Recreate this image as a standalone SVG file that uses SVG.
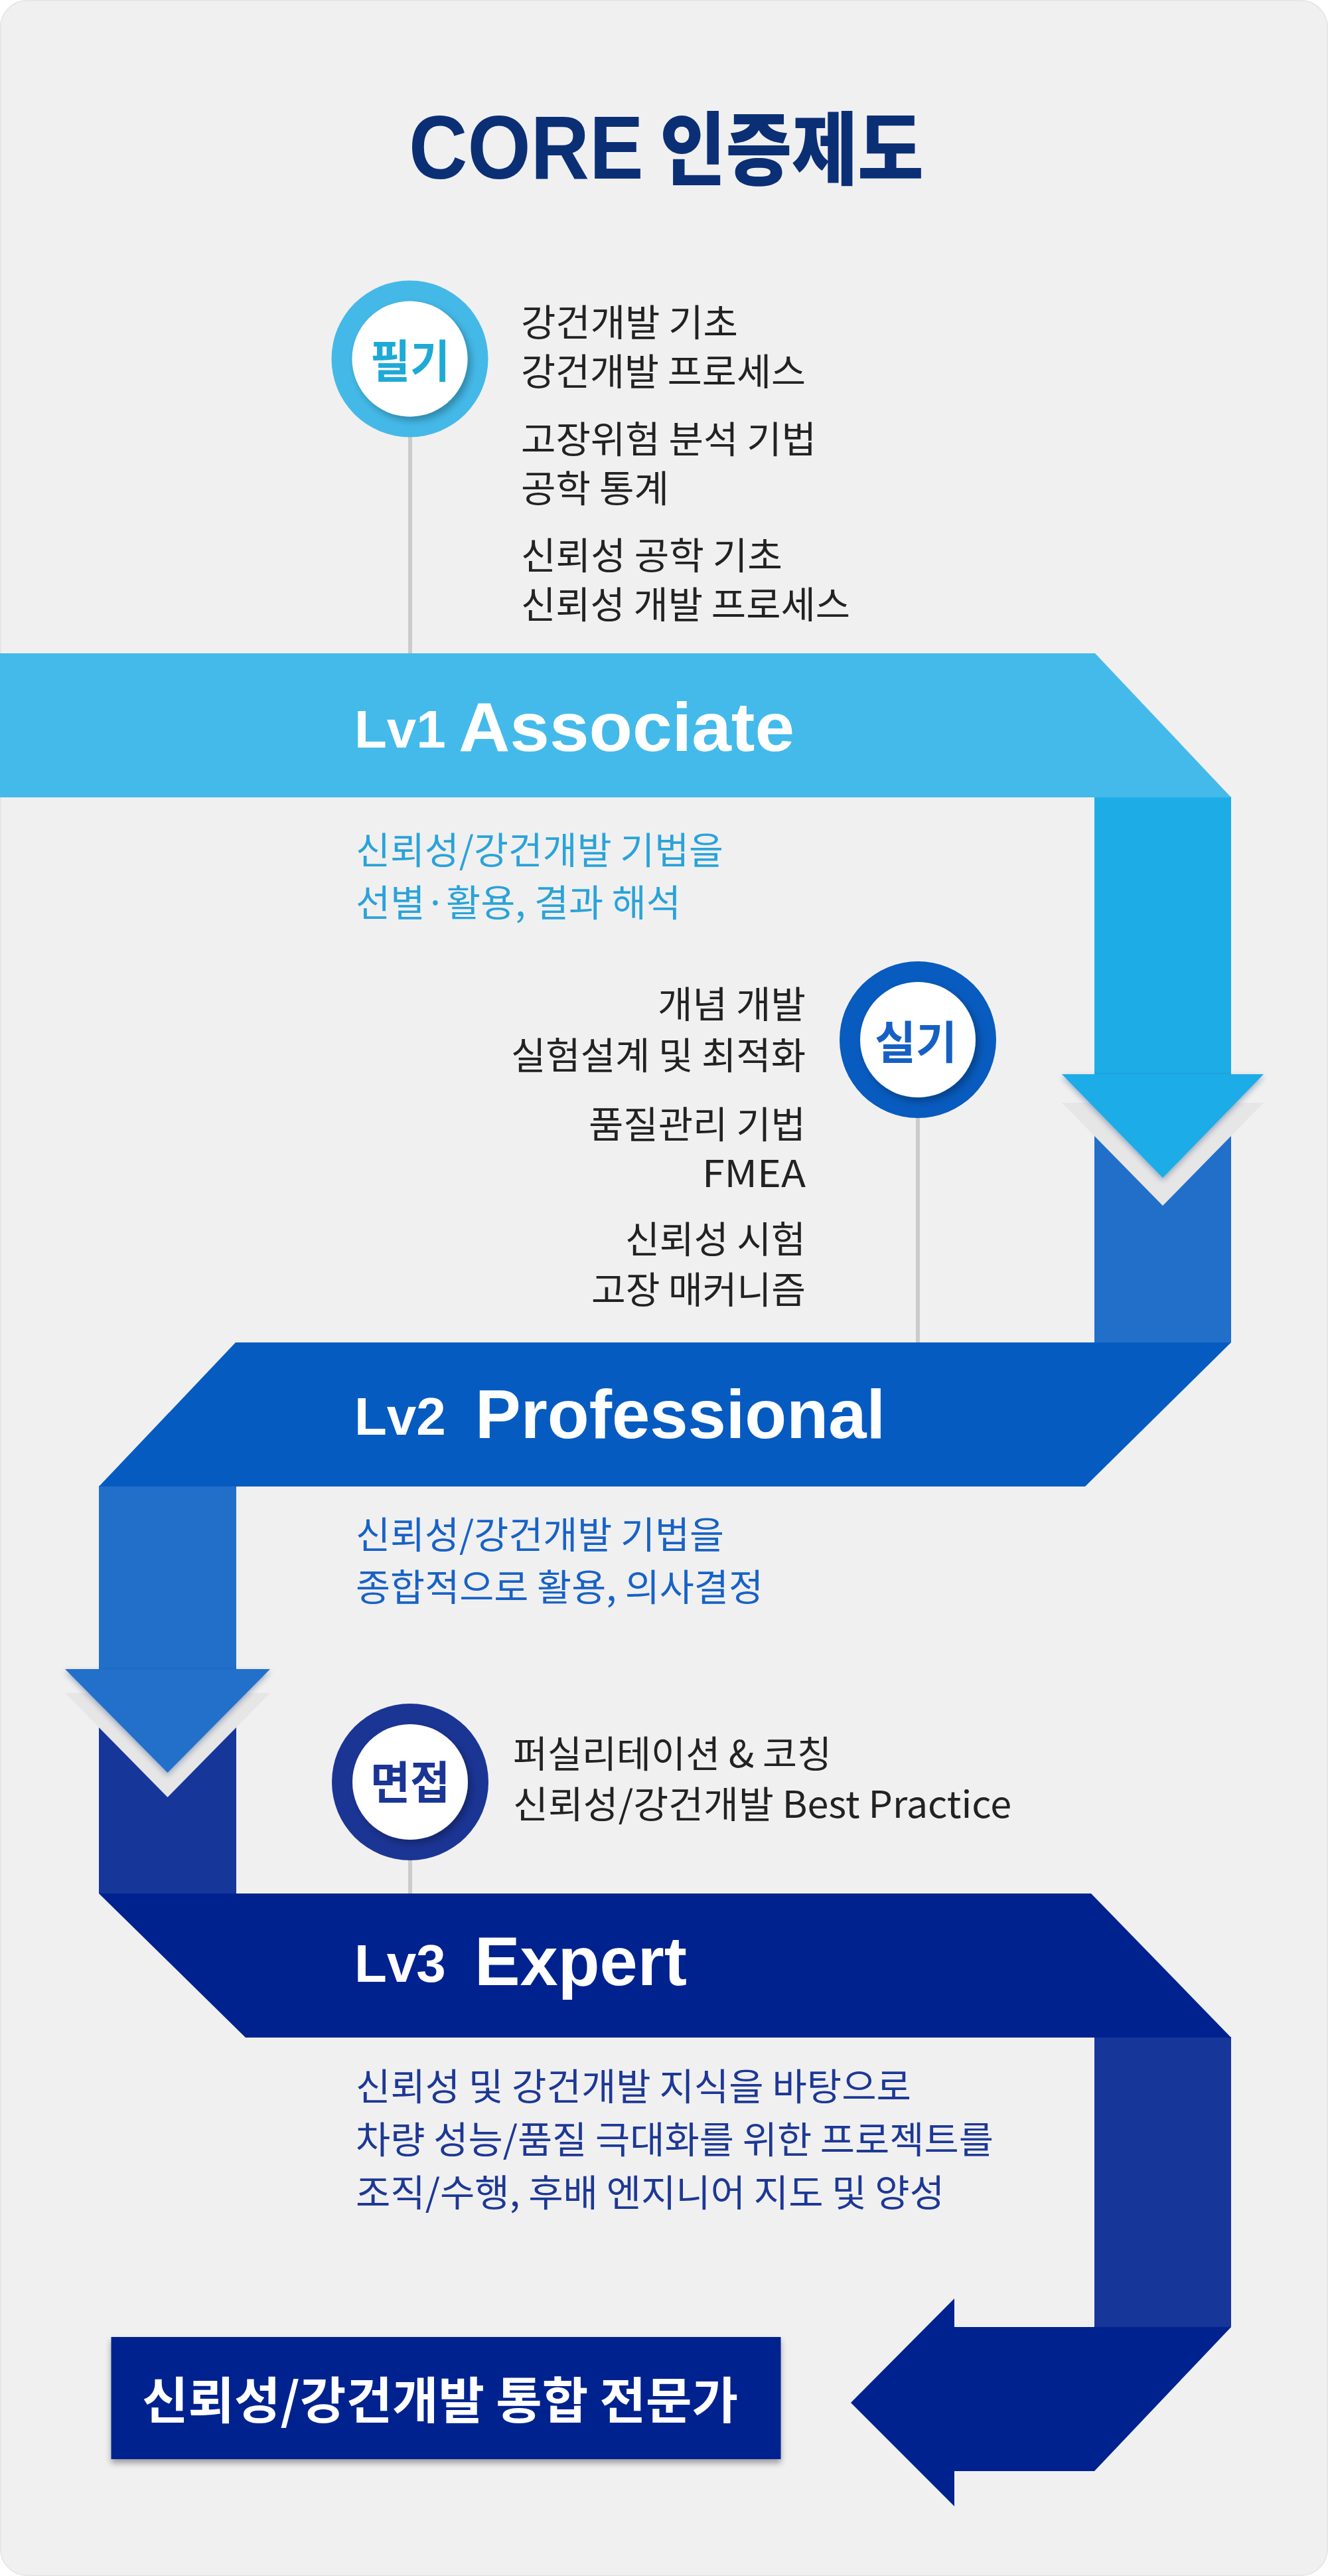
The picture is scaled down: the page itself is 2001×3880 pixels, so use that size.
<svg xmlns="http://www.w3.org/2000/svg" width="2001" height="3880" viewBox="0 0 2001 3880">
<defs>
<style>
.kr{font-family:"Noto Sans CJK KR","Noto Sans",sans-serif;}
.item{font-family:"Noto Sans CJK KR","Noto Sans",sans-serif;font-size:56px;fill:#222222;}
.desc{font-family:"Noto Sans CJK KR","Noto Sans",sans-serif;font-size:56px;}
.lv{font-family:"Liberation Sans",Arial,sans-serif;font-weight:bold;font-size:80px;fill:#ffffff;}
.lvname{font-family:"Liberation Sans",Arial,sans-serif;font-weight:bold;font-size:103px;fill:#ffffff;}
.badge{font-family:"Noto Sans CJK KR","Noto Sans",sans-serif;font-weight:bold;font-size:68px;}
.stem{stroke:#cccccc;stroke-width:6;fill:none;}
</style>
<filter id="innerShadow" x="-30%" y="-30%" width="160%" height="160%">
<feDropShadow dx="5" dy="6" stdDeviation="6" flood-color="#000000" flood-opacity="0.28"/>
</filter>
<filter id="arrowShadow" x="-20%" y="-20%" width="140%" height="150%">
<feDropShadow dx="0" dy="4" stdDeviation="4" flood-color="#0a2a6a" flood-opacity="0.35"/>
</filter>
<filter id="boxShadow" x="-10%" y="-20%" width="120%" height="150%">
<feDropShadow dx="0" dy="6" stdDeviation="5" flood-color="#000000" flood-opacity="0.35"/>
</filter>
</defs>

<g id="background">
<rect x="0" y="0" width="2001" height="3880" fill="#ffffff"/>
<rect x="0.75" y="0.75" width="1999.5" height="3878.5" rx="40" ry="40" fill="#f0f0f0" stroke="#e3e3e3" stroke-width="1.5"/>
</g>

<g id="title">
<text transform="translate(616,269) scale(0.9,1)" x="0" y="0" fill="#0b2f75"><tspan font-family="Liberation Sans, Arial, sans-serif" font-weight="bold" font-size="136">CORE</tspan><tspan font-family="Noto Sans CJK KR, Noto Sans, sans-serif" font-weight="900" font-size="120"> 인증제도</tspan></text>
</g>

<g id="connectors">
<!-- stems from badges -->
<line class="stem" x1="618" y1="655" x2="618" y2="984"/>
<line class="stem" x1="1383" y1="1680" x2="1383" y2="2022"/>
<line class="stem" x1="618" y1="2798" x2="618" y2="2852"/>
<!-- flow 1: Lv1 -> Lv2 -->
<rect x="1649" y="1660" width="206" height="362" fill="#226fca"/>
<polygon points="1600,1661 1904,1661 1752,1816" fill="#e6e6e6"/>
<rect x="1649" y="1200" width="206" height="420" fill="#1eace7"/>
<polygon points="1600,1618 1904,1618 1752,1774" fill="#1eace7" filter="url(#arrowShadow)"/>
<!-- flow 2: Lv2 -> Lv3 -->
<rect x="149" y="2548" width="207" height="304" fill="#17369a"/>
<polygon points="98,2550 407,2550 252.5,2707" fill="#e6e6e6"/>
<rect x="149" y="2238" width="207" height="278" fill="#226fca"/>
<polygon points="98,2514 407,2514 252.5,2670" fill="#226fca" filter="url(#arrowShadow)"/>
<!-- flow 3: Lv3 -> result -->
<rect x="1649" y="3068" width="206" height="437" fill="#17369a"/>
<polygon points="1282,3619 1438,3462 1438,3505 1855,3505 1649,3722 1438,3722 1438,3775" fill="#00228f"/>
</g>

<g id="lv1">
<polygon points="0,984 1650,984 1855,1201 0,1201" fill="#44baea"/>
<text class="lv" x="534" y="1126">Lv1</text>
<text class="lvname" x="691" y="1131" textLength="506" lengthAdjust="spacingAndGlyphs">Associate</text>
<text class="desc" x="536" y="1301" fill="#2aa3d9" textLength="554" lengthAdjust="spacingAndGlyphs">신뢰성/강건개발 기법을</text>
<text class="desc" x="536" y="1380" fill="#2aa3d9" textLength="490" lengthAdjust="spacingAndGlyphs">선별·활용, 결과 해석</text>
</g>

<g id="lv2">
<polygon points="355,2022 1855,2022 1635,2239 149,2239" fill="#065bc1"/>
<text class="lv" x="534" y="2161">Lv2</text>
<text class="lvname" x="716" y="2166" textLength="618" lengthAdjust="spacingAndGlyphs">Professional</text>
<text class="desc" x="536" y="2332" fill="#1862c6" textLength="555" lengthAdjust="spacingAndGlyphs">신뢰성/강건개발 기법을</text>
<text class="desc" x="536" y="2411" fill="#1862c6" textLength="614" lengthAdjust="spacingAndGlyphs">종합적으로 활용, 의사결정</text>
</g>

<g id="lv3">
<polygon points="149,2852 1644,2852 1855,3069 370,3069" fill="#00228f"/>
<text class="lv" x="534" y="2985">Lv3</text>
<text class="lvname" x="715" y="2990" textLength="320" lengthAdjust="spacingAndGlyphs">Expert</text>
<text class="desc" x="536" y="3163" fill="#1d3895" textLength="837" lengthAdjust="spacingAndGlyphs">신뢰성 및 강건개발 지식을 바탕으로</text>
<text class="desc" x="536" y="3243" fill="#1d3895" textLength="961" lengthAdjust="spacingAndGlyphs">차량 성능/품질 극대화를 위한 프로젝트를</text>
<text class="desc" x="536" y="3323" fill="#1d3895" textLength="887" lengthAdjust="spacingAndGlyphs">조직/수행, 후배 엔지니어 지도 및 양성</text>
</g>

<g id="node-pilgi">
<circle cx="617.5" cy="540.5" r="118" fill="#44b9e8"/>
<circle cx="617.5" cy="540.5" r="87" fill="#ffffff" filter="url(#innerShadow)"/>
<text class="badge" x="558" y="569" fill="#1eaad6" textLength="120" lengthAdjust="spacingAndGlyphs">필기</text>
<text class="item" x="785" y="506" textLength="327" lengthAdjust="spacingAndGlyphs">강건개발 기초</text>
<text class="item" x="785" y="580" textLength="429" lengthAdjust="spacingAndGlyphs">강건개발 프로세스</text>
<text class="item" x="785" y="682" textLength="445" lengthAdjust="spacingAndGlyphs">고장위험 분석 기법</text>
<text class="item" x="785" y="756" textLength="223" lengthAdjust="spacingAndGlyphs">공학 통계</text>
<text class="item" x="785" y="857" textLength="394" lengthAdjust="spacingAndGlyphs">신뢰성 공학 기초</text>
<text class="item" x="785" y="931" textLength="496" lengthAdjust="spacingAndGlyphs">신뢰성 개발 프로세스</text>
</g>

<g id="node-silgi">
<circle cx="1383" cy="1566" r="118" fill="#085bbf"/>
<circle cx="1383" cy="1566" r="87" fill="#ffffff" filter="url(#innerShadow)"/>
<text class="badge" x="1318" y="1595" fill="#1660c5" textLength="124" lengthAdjust="spacingAndGlyphs">실기</text>
<text class="item" x="991" y="1533" textLength="223" lengthAdjust="spacingAndGlyphs">개념 개발</text>
<text class="item" x="770" y="1610" textLength="444" lengthAdjust="spacingAndGlyphs">실험설계 및 최적화</text>
<text class="item" x="887" y="1714" textLength="327" lengthAdjust="spacingAndGlyphs">품질관리 기법</text>
<text class="item" x="1058" y="1788" textLength="156" lengthAdjust="spacingAndGlyphs">FMEA</text>
<text class="item" x="942" y="1887" textLength="272" lengthAdjust="spacingAndGlyphs">신뢰성 시험</text>
<text class="item" x="891" y="1963" textLength="323" lengthAdjust="spacingAndGlyphs">고장 매커니즘</text>
</g>

<g id="node-myeonjeop">
<circle cx="618" cy="2684" r="118" fill="#1b3595"/>
<circle cx="618" cy="2684" r="87" fill="#ffffff" filter="url(#innerShadow)"/>
<text class="badge" x="558" y="2710" fill="#1b3595" textLength="120" lengthAdjust="spacingAndGlyphs">면접</text>
<text class="item" x="773" y="2662" textLength="480" lengthAdjust="spacingAndGlyphs">퍼실리테이션 &amp; 코칭</text>
<text class="item" x="773" y="2738" textLength="751" lengthAdjust="spacingAndGlyphs">신뢰성/강건개발 Best Practice</text>
</g>

<g id="result">
<rect x="167.5" y="3520" width="1009" height="184" fill="#00228f" filter="url(#boxShadow)"/>
<text class="kr" x="214" y="3643" font-size="75" font-weight="bold" fill="#ffffff" textLength="898" lengthAdjust="spacingAndGlyphs">신뢰성/강건개발 통합 전문가</text>
</g>
</svg>
